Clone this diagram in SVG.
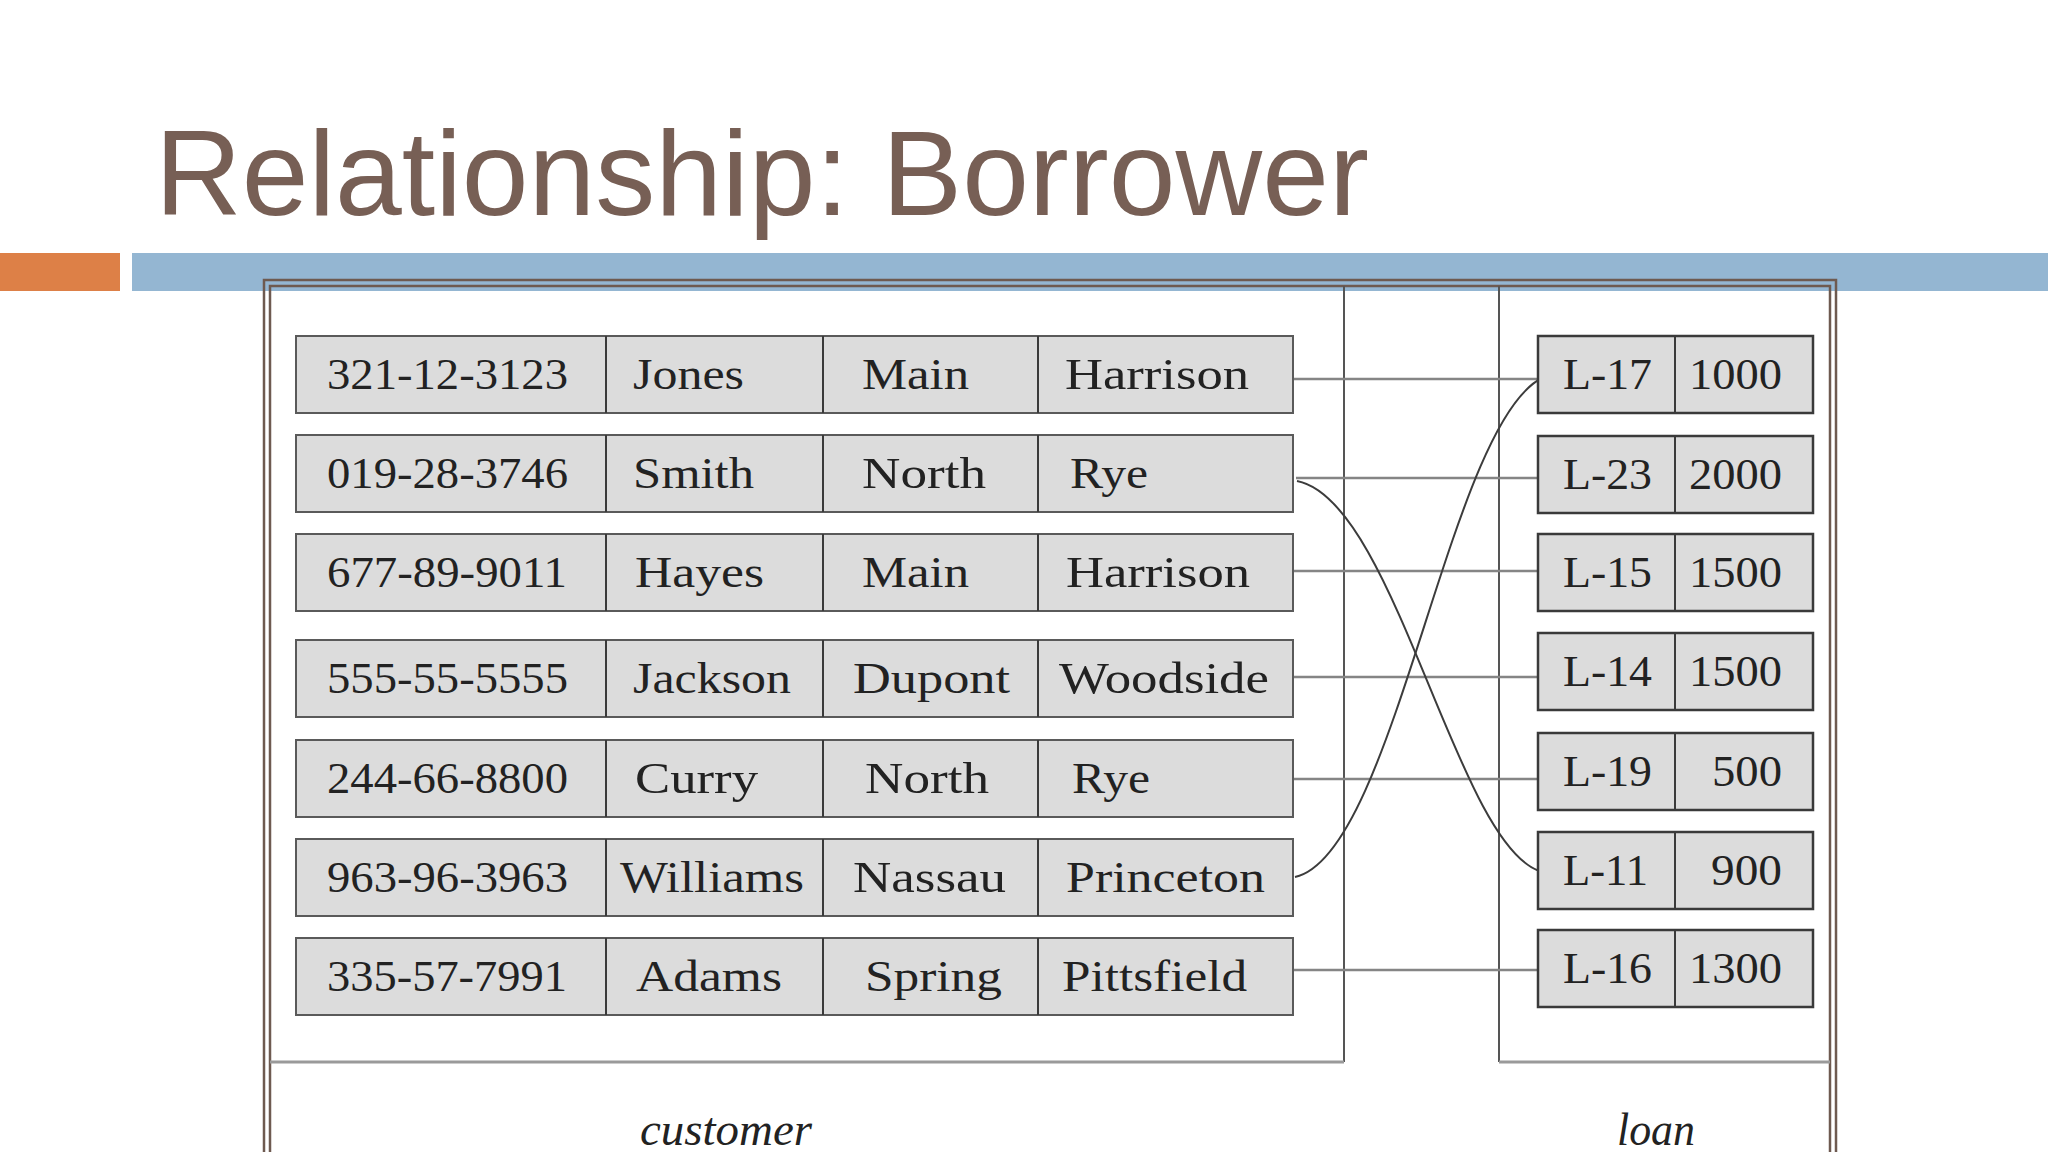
<svg xmlns="http://www.w3.org/2000/svg" width="2048" height="1152" viewBox="0 0 2048 1152">
<style>
.title{font-family:"Liberation Sans",Arial,sans-serif;font-size:120px;fill:#775F55}
.cell{fill:#dcdcdc;stroke:#5a5a5a;stroke-width:2}
.lcell{fill:#dcdcdc;stroke:#3a3a3a;stroke-width:2.5}
.div{stroke:#3a3a3a;stroke-width:2}
.t{font-family:"Liberation Serif","Times New Roman",serif;font-size:44px;fill:#222}
.lab{font-family:"Liberation Serif","Times New Roman",serif;font-size:47px;font-style:italic;fill:#222}
.link{stroke:#858585;stroke-width:2.5;fill:none}
.curve{stroke:#3c3c3c;stroke-width:2;fill:none}
.frame{fill:none;stroke:#6e5a50;stroke-width:2.5}
</style>
<rect width="2048" height="1152" fill="#ffffff"/>
<text class="title" x="155" y="215">Relationship: Borrower</text>
<rect x="0" y="253" width="120" height="38" fill="#DD8047"/>
<rect x="132" y="253" width="1916" height="38" fill="#94B6D2"/>

<g id="frame">
<rect x="264" y="280" width="1572" height="900" fill="#ffffff" class="frame"/>
<rect x="270" y="286" width="1560" height="900" class="frame"/>
<line x1="1344" y1="286" x2="1344" y2="1062" stroke="#555" stroke-width="2"/>
<line x1="1499" y1="286" x2="1499" y2="1062" stroke="#555" stroke-width="2"/>
<line x1="270" y1="1062" x2="1344" y2="1062" stroke="#9a9a9a" stroke-width="3"/>
<line x1="1499" y1="1062" x2="1830" y2="1062" stroke="#9a9a9a" stroke-width="3"/>
</g>

<g id="connectors">
<line class="link" x1="1293" y1="379" x2="1540" y2="379"/>
<line class="link" x1="1296" y1="478" x2="1543" y2="478" stroke-width="3"/>
<line class="link" x1="1293" y1="571" x2="1538" y2="571"/>
<line class="link" x1="1293" y1="677" x2="1540" y2="677"/>
<line class="link" x1="1293" y1="779" x2="1538" y2="779"/>
<line class="link" x1="1293" y1="970" x2="1538" y2="970"/>
<path class="curve" d="M1297,481 C1395,500 1455,840 1539,871"/>
<path class="curve" d="M1295,877 C1395,855 1448,425 1542,378"/>
</g>

<g id="customer-1">
<rect class="cell" x="296" y="336" width="997" height="77"/>
<line class="div" x1="606" y1="336" x2="606" y2="413"/><line class="div" x1="823" y1="336" x2="823" y2="413"/><line class="div" x1="1038" y1="336" x2="1038" y2="413"/>
<text class="t" x="327" y="389" textLength="241" lengthAdjust="spacingAndGlyphs">321-12-3123</text>
<text class="t" x="633" y="389" textLength="111" lengthAdjust="spacingAndGlyphs">Jones</text>
<text class="t" x="862" y="389" textLength="107" lengthAdjust="spacingAndGlyphs">Main</text>
<text class="t" x="1065" y="389" textLength="184" lengthAdjust="spacingAndGlyphs">Harrison</text>
</g>
<g id="customer-2">
<rect class="cell" x="296" y="435" width="997" height="77"/>
<line class="div" x1="606" y1="435" x2="606" y2="512"/><line class="div" x1="823" y1="435" x2="823" y2="512"/><line class="div" x1="1038" y1="435" x2="1038" y2="512"/>
<text class="t" x="327" y="488" textLength="241" lengthAdjust="spacingAndGlyphs">019-28-3746</text>
<text class="t" x="633" y="488" textLength="121" lengthAdjust="spacingAndGlyphs">Smith</text>
<text class="t" x="862" y="488" textLength="124" lengthAdjust="spacingAndGlyphs">North</text>
<text class="t" x="1070" y="488" textLength="78" lengthAdjust="spacingAndGlyphs">Rye</text>
</g>
<g id="customer-3">
<rect class="cell" x="296" y="534" width="997" height="77"/>
<line class="div" x1="606" y1="534" x2="606" y2="611"/><line class="div" x1="823" y1="534" x2="823" y2="611"/><line class="div" x1="1038" y1="534" x2="1038" y2="611"/>
<text class="t" x="327" y="587" textLength="240" lengthAdjust="spacingAndGlyphs">677-89-9011</text>
<text class="t" x="635" y="587" textLength="129" lengthAdjust="spacingAndGlyphs">Hayes</text>
<text class="t" x="862" y="587" textLength="107" lengthAdjust="spacingAndGlyphs">Main</text>
<text class="t" x="1066" y="587" textLength="184" lengthAdjust="spacingAndGlyphs">Harrison</text>
</g>
<g id="customer-4">
<rect class="cell" x="296" y="640" width="997" height="77"/>
<line class="div" x1="606" y1="640" x2="606" y2="717"/><line class="div" x1="823" y1="640" x2="823" y2="717"/><line class="div" x1="1038" y1="640" x2="1038" y2="717"/>
<text class="t" x="327" y="693" textLength="241" lengthAdjust="spacingAndGlyphs">555-55-5555</text>
<text class="t" x="633" y="693" textLength="158" lengthAdjust="spacingAndGlyphs">Jackson</text>
<text class="t" x="853" y="693" textLength="157" lengthAdjust="spacingAndGlyphs">Dupont</text>
<text class="t" x="1059" y="693" textLength="210" lengthAdjust="spacingAndGlyphs">Woodside</text>
</g>
<g id="customer-5">
<rect class="cell" x="296" y="740" width="997" height="77"/>
<line class="div" x1="606" y1="740" x2="606" y2="817"/><line class="div" x1="823" y1="740" x2="823" y2="817"/><line class="div" x1="1038" y1="740" x2="1038" y2="817"/>
<text class="t" x="327" y="793" textLength="241" lengthAdjust="spacingAndGlyphs">244-66-8800</text>
<text class="t" x="635" y="793" textLength="123" lengthAdjust="spacingAndGlyphs">Curry</text>
<text class="t" x="865" y="793" textLength="124" lengthAdjust="spacingAndGlyphs">North</text>
<text class="t" x="1072" y="793" textLength="78" lengthAdjust="spacingAndGlyphs">Rye</text>
</g>
<g id="customer-6">
<rect class="cell" x="296" y="839" width="997" height="77"/>
<line class="div" x1="606" y1="839" x2="606" y2="916"/><line class="div" x1="823" y1="839" x2="823" y2="916"/><line class="div" x1="1038" y1="839" x2="1038" y2="916"/>
<text class="t" x="327" y="892" textLength="241" lengthAdjust="spacingAndGlyphs">963-96-3963</text>
<text class="t" x="620" y="892" textLength="184" lengthAdjust="spacingAndGlyphs">Williams</text>
<text class="t" x="853" y="892" textLength="153" lengthAdjust="spacingAndGlyphs">Nassau</text>
<text class="t" x="1066" y="892" textLength="199" lengthAdjust="spacingAndGlyphs">Princeton</text>
</g>
<g id="customer-7">
<rect class="cell" x="296" y="938" width="997" height="77"/>
<line class="div" x1="606" y1="938" x2="606" y2="1015"/><line class="div" x1="823" y1="938" x2="823" y2="1015"/><line class="div" x1="1038" y1="938" x2="1038" y2="1015"/>
<text class="t" x="327" y="991" textLength="240" lengthAdjust="spacingAndGlyphs">335-57-7991</text>
<text class="t" x="636" y="991" textLength="146" lengthAdjust="spacingAndGlyphs">Adams</text>
<text class="t" x="865" y="991" textLength="137" lengthAdjust="spacingAndGlyphs">Spring</text>
<text class="t" x="1062" y="991" textLength="185" lengthAdjust="spacingAndGlyphs">Pittsfield</text>
</g>

<g id="loan-1">
<rect class="lcell" x="1538" y="336" width="275" height="77"/>
<line class="div" x1="1675" y1="336" x2="1675" y2="413"/>
<text class="t" x="1563" y="389" textLength="89" lengthAdjust="spacingAndGlyphs">L-17</text>
<text class="t" x="1689" y="389" textLength="93" lengthAdjust="spacingAndGlyphs">1000</text>
</g>
<g id="loan-2">
<rect class="lcell" x="1538" y="436" width="275" height="77"/>
<line class="div" x1="1675" y1="436" x2="1675" y2="513"/>
<text class="t" x="1563" y="489" textLength="89" lengthAdjust="spacingAndGlyphs">L-23</text>
<text class="t" x="1689" y="489" textLength="93" lengthAdjust="spacingAndGlyphs">2000</text>
</g>
<g id="loan-3">
<rect class="lcell" x="1538" y="534" width="275" height="77"/>
<line class="div" x1="1675" y1="534" x2="1675" y2="611"/>
<text class="t" x="1563" y="587" textLength="89" lengthAdjust="spacingAndGlyphs">L-15</text>
<text class="t" x="1689" y="587" textLength="93" lengthAdjust="spacingAndGlyphs">1500</text>
</g>
<g id="loan-4">
<rect class="lcell" x="1538" y="633" width="275" height="77"/>
<line class="div" x1="1675" y1="633" x2="1675" y2="710"/>
<text class="t" x="1563" y="686" textLength="89" lengthAdjust="spacingAndGlyphs">L-14</text>
<text class="t" x="1689" y="686" textLength="93" lengthAdjust="spacingAndGlyphs">1500</text>
</g>
<g id="loan-5">
<rect class="lcell" x="1538" y="733" width="275" height="77"/>
<line class="div" x1="1675" y1="733" x2="1675" y2="810"/>
<text class="t" x="1563" y="786" textLength="89" lengthAdjust="spacingAndGlyphs">L-19</text>
<text class="t" x="1712" y="786" textLength="70" lengthAdjust="spacingAndGlyphs">500</text>
</g>
<g id="loan-6">
<rect class="lcell" x="1538" y="832" width="275" height="77"/>
<line class="div" x1="1675" y1="832" x2="1675" y2="909"/>
<text class="t" x="1563" y="885" textLength="85" lengthAdjust="spacingAndGlyphs">L-11</text>
<text class="t" x="1711" y="885" textLength="71" lengthAdjust="spacingAndGlyphs">900</text>
</g>
<g id="loan-7">
<rect class="lcell" x="1538" y="930" width="275" height="77"/>
<line class="div" x1="1675" y1="930" x2="1675" y2="1007"/>
<text class="t" x="1563" y="983" textLength="89" lengthAdjust="spacingAndGlyphs">L-16</text>
<text class="t" x="1689" y="983" textLength="93" lengthAdjust="spacingAndGlyphs">1300</text>
</g>

<text class="lab" x="640" y="1145" textLength="172" lengthAdjust="spacingAndGlyphs">customer</text>
<text class="lab" x="1617" y="1145" textLength="78" lengthAdjust="spacingAndGlyphs">loan</text>
</svg>
